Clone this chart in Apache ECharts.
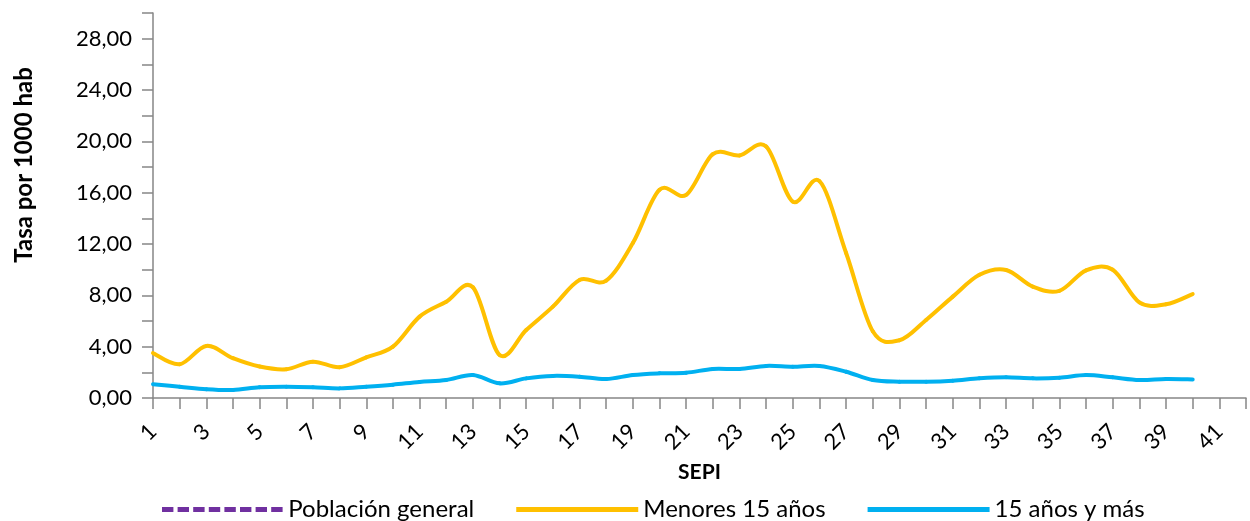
<!DOCTYPE html>
<html>
<head>
<meta charset="utf-8">
<script src="https://cdn.jsdelivr.net/npm/echarts@6/dist/echarts.min.js"></script>
<style>
html,body{margin:0;padding:0;background:#fff;}
#chart{width:1250px;height:521px;}
</style>
</head>
<body>
<div id="chart"></div>
<script>
const categories = [];
for (let i = 1; i <= 42; i++) categories.push(String(i));

const poblacionGeneral = [];
const menores15 = [3.5, 2.63, 4.06, 3.1, 2.45, 2.24, 2.83, 2.4, 3.17, 4.0,
  6.34, 7.5, 8.63, 3.35, 5.3, 7.12, 9.2, 9.15, 12.07, 16.22,
  15.83, 19.0, 18.9, 19.6, 15.3, 16.9, 11.3, 5.2, 4.5, 6.08,
  7.9, 9.6, 9.98, 8.68, 8.35, 9.95, 10.0, 7.45, 7.3, 8.1];
const mayores15 = [1.07, 0.88, 0.68, 0.62, 0.84, 0.88, 0.84, 0.75, 0.88, 1.04,
  1.25, 1.40, 1.79, 1.14, 1.53, 1.72, 1.66, 1.48, 1.79, 1.92,
  1.97, 2.26, 2.26, 2.5, 2.44, 2.5, 2.05, 1.40, 1.27, 1.27,
  1.35, 1.53, 1.61, 1.53, 1.58, 1.79, 1.61, 1.40, 1.48, 1.45];

const seriesNames = ['Población general', 'Menores 15 años', '15 años y más'];
const seriesColors = ['#7030A0', '#FFC000', '#00B0F0'];
const yAxisName = 'Tasa por 1000 hab';
const xAxisName = 'SEPI';

const font = 'Lato, "Open Sans", sans-serif';
const axisColor = '#868686';

// dashed legend icon (8 dashes across 120 x 5)
let dashPath = 'path://';
for (let k = 0; k < 8; k++) {
  const x0 = k * 15.6;
  dashPath += 'M' + x0 + ',0h11.4v5h-11.4z';
}

// smooth (Catmull-Rom style) line drawn through the axis scales
function smoothSeries(name, values, color) {
  return {
    type: 'custom', name: name,
    itemStyle: { color: color },
    data: values.map(function (v, i) { return [i, v]; }),
    encode: { x: 0, y: 1 },
    clip: false,
    renderItem: function (params, api) {
      const i = params.dataIndex;
      const n = values.length;
      if (i >= n - 1) return null;
      function pt(k) {
        const kk = Math.max(0, Math.min(n - 1, k));
        return api.coord([kk, values[kk]]);
      }
      const p0 = pt(i - 1), p1 = pt(i), p2 = pt(i + 1), p3 = pt(i + 2);
      const t = 1 / 6;
      return {
        type: 'bezierCurve',
        shape: {
          x1: p1[0], y1: p1[1], x2: p2[0], y2: p2[1],
          cpx1: p1[0] + (p2[0] - p0[0]) * t, cpy1: p1[1] + (p2[1] - p0[1]) * t,
          cpx2: p2[0] - (p3[0] - p1[0]) * t, cpy2: p2[1] - (p3[1] - p1[1]) * t
        },
        style: { stroke: color, lineWidth: 4, fill: null, lineCap: 'round' }
      };
    }
  };
}

const chart = echarts.init(document.getElementById('chart'));
chart.setOption({
  animation: false,
  grid: { left: 153, right: 4, top: 13, bottom: 123, containLabel: false },
  legend: {
    left: 157, top: 491,
    itemWidth: 122, itemHeight: 5, itemGap: 42, itemTextGap: 7,
    textStyle: { fontFamily: font, fontSize: 24, lineHeight: 24, color: '#000', padding: [0, 0, 3, 0] },
    data: [
      { name: seriesNames[0], icon: dashPath },
      { name: seriesNames[1], icon: 'rect' },
      { name: seriesNames[2], icon: 'rect' }
    ]
  },
  graphic: [{
    type: 'text', x: 24, y: 165, rotation: Math.PI / 2,
    style: { text: yAxisName, font: 'bold 24px ' + font, fill: '#000',
      textAlign: 'center', textVerticalAlign: 'middle' }
  }],
  xAxis: {
    type: 'category', data: categories, boundaryGap: false,
    name: xAxisName, nameLocation: 'middle', nameGap: 60,
    nameTextStyle: { fontFamily: font, fontSize: 21, fontWeight: 'bold', color: '#000', lineHeight: 22 },
    axisLine: { lineStyle: { color: axisColor, width: 1.5 } },
    axisTick: { show: true, interval: 0, length: 11, lineStyle: { color: axisColor, width: 1.5 } },
    axisLabel: { interval: 1, rotate: 45, margin: 30, fontFamily: font, fontSize: 22, color: '#000' },
    splitLine: { show: false }
  },
  yAxis: {
    type: 'value', min: 0, max: 30, interval: 2,
    axisLine: { show: true, lineStyle: { color: axisColor, width: 1.5 } },
    axisTick: { show: true, length: 11, lineStyle: { color: axisColor, width: 1.5 } },
    axisLabel: {
      margin: 21, fontFamily: font, fontSize: 22, color: '#000',
      formatter: function (v) { return v % 4 === 0 && v < 30 ? v.toFixed(2).replace('.', ',') : ''; }
    },
    splitLine: { show: false }
  },
  series: [
    { name: seriesNames[0], type: 'line', data: poblacionGeneral, symbol: 'none',
      itemStyle: { color: seriesColors[0] },
      lineStyle: { color: seriesColors[0], width: 4, type: [11, 4] } },
    smoothSeries(seriesNames[1], menores15, seriesColors[1]),
    smoothSeries(seriesNames[2], mayores15, seriesColors[2])
  ]
});
</script>
</body>
</html>
